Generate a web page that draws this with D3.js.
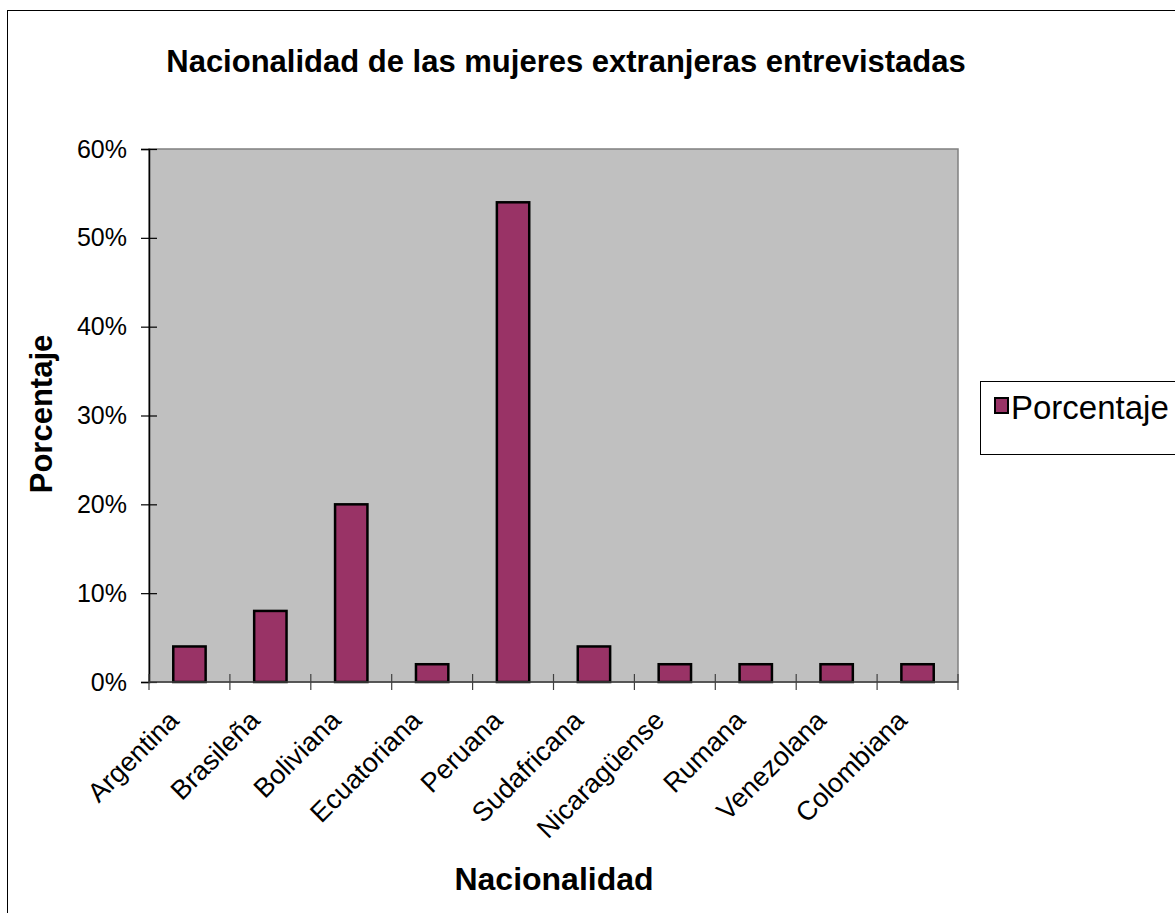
<!DOCTYPE html>
<html>
<head>
<meta charset="utf-8">
<script src="https://cdn.jsdelivr.net/npm/d3@7"></script>
<style>
  body { margin: 0; background: #fff; }
  text { font-family: "Liberation Sans", Arial, sans-serif; }
</style>
</head>
<body>
<script>
var categories = ["Argentina", "Brasileña", "Boliviana", "Ecuatoriana", "Peruana",
                  "Sudafricana", "Nicaragüense", "Rumana", "Venezolana", "Colombiana"];
var values = [0.04, 0.08, 0.20, 0.02, 0.54, 0.04, 0.02, 0.02, 0.02, 0.02];
var yTicks = [0, 0.1, 0.2, 0.3, 0.4, 0.5, 0.6];
var seriesName = "Porcentaje";

var margin = {top: 149, left: 149},
    width = 809,
    height = 533;

var svg = d3.select("body").append("svg")
    .attr("width", 1175)
    .attr("height", 913);

// outer chart border (right and bottom edges fall outside the picture)
svg.append("rect")
    .attr("x", 7.5).attr("y", 10.5)
    .attr("width", 1200).attr("height", 1000)
    .attr("fill", "#fff").attr("stroke", "#000").attr("stroke-width", 1);

svg.append("text")
    .attr("x", 566).attr("y", 72)
    .attr("text-anchor", "middle")
    .style("font-size", "31px").style("font-weight", "bold")
    .text("Nacionalidad de las mujeres extranjeras entrevistadas");

var g = svg.append("g")
    .attr("transform", "translate(" + margin.left + "," + margin.top + ")");

var x = d3.scaleBand().domain(categories).range([0, width]).paddingInner(0.6).paddingOuter(0.3);
var xb = d3.scaleBand().domain(categories).range([0, width]);
var y = d3.scaleLinear().domain([0, 0.6]).range([height, 0]);

// plot area
g.append("rect")
    .attr("width", width).attr("height", height)
    .attr("fill", "#c0c0c0")
    .attr("stroke", "#808080").attr("stroke-width", 1.5);

g.selectAll(".bar")
    .data(values)
  .enter().append("rect")
    .attr("class", "bar")
    .attr("x", function(d, i) { return x(categories[i]); })
    .attr("y", function(d) { return y(d); })
    .attr("width", x.bandwidth())
    .attr("height", function(d) { return height - y(d); })
    .attr("fill", "#993366")
    .attr("stroke", "#000").attr("stroke-width", 2.5);

// y axis, ticks cross the axis line
var yAxis = g.append("g")
    .call(d3.axisLeft(y).tickValues(yTicks).tickSize(8).tickPadding(14).tickFormat(d3.format(".0%")));
yAxis.select(".domain").attr("stroke", "#000").attr("stroke-width", 1.5);
yAxis.selectAll(".tick line").attr("x2", -8).attr("x1", 8).attr("stroke-width", 1.2);
yAxis.selectAll("text").style("font-size", "25px").attr("fill", "#000");

// x axis: ticks at band boundaries
var xAxis = g.append("g").attr("transform", "translate(0," + height + ")");
xAxis.append("line").attr("x1", 0).attr("x2", width)
    .attr("stroke", "#404040").attr("stroke-width", 1.5);
xAxis.selectAll(".tick")
    .data(categories.concat(["_end"]))
  .enter().append("line")
    .attr("x1", function(d, i) { return i < categories.length ? xb(d) : width; })
    .attr("x2", function(d, i) { return i < categories.length ? xb(d) : width; })
    .attr("y1", -8).attr("y2", 8)
    .attr("stroke", "#404040").attr("stroke-width", 1.2);

xAxis.selectAll(".lbl")
    .data(categories)
  .enter().append("text")
    .attr("transform", function(d) {
        return "translate(" + (xb(d) + xb.bandwidth() / 2 - 9) + ",40) rotate(-45)";
    })
    .attr("text-anchor", "end")
    .style("font-size", "27px")
    .text(function(d) { return d; });

// axis titles
svg.append("text")
    .attr("x", 554).attr("y", 890)
    .attr("text-anchor", "middle")
    .style("font-size", "32px").style("font-weight", "bold")
    .text("Nacionalidad");

svg.append("text")
    .attr("transform", "translate(52,414) rotate(-90)")
    .attr("text-anchor", "middle")
    .style("font-size", "31px").style("font-weight", "bold")
    .text("Porcentaje");

// legend
var lg = svg.append("g");
lg.append("rect")
    .attr("x", 980.5).attr("y", 381.5)
    .attr("width", 240).attr("height", 73)
    .attr("fill", "#fff").attr("stroke", "#000").attr("stroke-width", 1);
lg.append("rect")
    .attr("x", 995).attr("y", 398)
    .attr("width", 13).attr("height", 15)
    .attr("fill", "#993366").attr("stroke", "#000").attr("stroke-width", 2);
lg.append("text")
    .attr("x", 1011).attr("y", 419)
    .style("font-size", "33px")
    .text(seriesName);
</script>
</body>
</html>
